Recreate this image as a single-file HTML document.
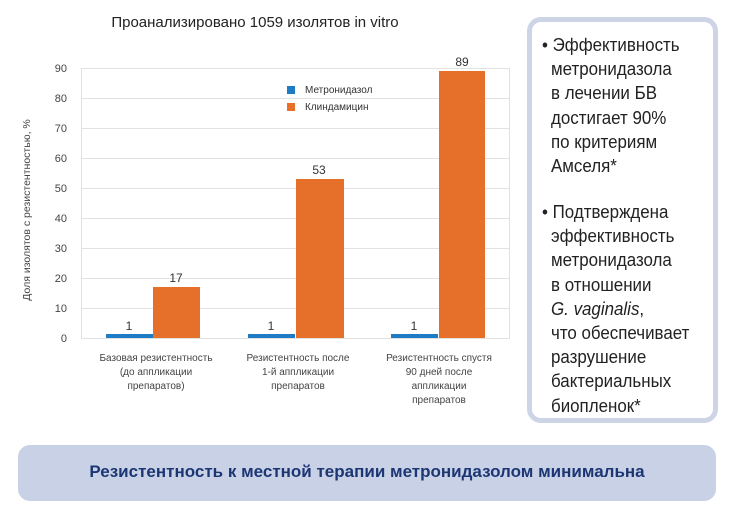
<!DOCTYPE html>
<html><head><meta charset="utf-8"><style>
body{margin:0;width:730px;height:519px;background:#fff;font-family:"Liberation Sans",sans-serif;position:relative;overflow:hidden}
.box{position:absolute;left:527px;top:17px;width:181px;height:396px;border:5px solid #cdd4e6;border-radius:14px;background:#fff}
.box p{margin:0;position:absolute;left:10px;font-size:18px;line-height:24.2px;color:#222;transform:scaleX(0.94);transform-origin:0 0;white-space:nowrap}
.banner{position:absolute;left:18px;top:445px;width:698px;height:56px;background:#c9d1e6;border-radius:12px;text-align:center;line-height:54px;font-weight:bold;font-size:17px;color:#1c3674}
</style></head><body>
<svg width="520" height="430" style="position:absolute;left:0;top:0" font-family="Liberation Sans, sans-serif">
<text x="255" y="27" font-size="15" text-anchor="middle" fill="#222">Проанализировано 1059 изолятов in vitro</text>
<g stroke="#e2e2e2" stroke-width="1">
<line x1="81" x2="510" y1="68.5" y2="68.5"/><line x1="81" x2="510" y1="98.5" y2="98.5"/><line x1="81" x2="510" y1="128.5" y2="128.5"/><line x1="81" x2="510" y1="158.5" y2="158.5"/><line x1="81" x2="510" y1="188.5" y2="188.5"/><line x1="81" x2="510" y1="218.5" y2="218.5"/><line x1="81" x2="510" y1="248.5" y2="248.5"/><line x1="81" x2="510" y1="278.5" y2="278.5"/><line x1="81" x2="510" y1="308.5" y2="308.5"/><line x1="81" x2="510" y1="338.5" y2="338.5"/>
<line x1="81.5" x2="81.5" y1="68" y2="338"/><line x1="509.5" x2="509.5" y1="68" y2="338"/>
</g>
<g font-size="11" fill="#444" text-anchor="end">
<text x="67" y="72">90</text><text x="67" y="102">80</text><text x="67" y="132">70</text><text x="67" y="162">60</text><text x="67" y="192">50</text><text x="67" y="222">40</text><text x="67" y="252">30</text><text x="67" y="282">20</text><text x="67" y="312">10</text><text x="67" y="342">0</text>
</g>
<text transform="translate(30,210) rotate(-90)" font-size="10.5" fill="#444" text-anchor="middle">Доля изолятов с резистентностью, %</text>
<g fill="#1d7cc4"><rect x="106" y="334" width="47" height="4"/><rect x="248" y="334" width="47" height="4"/><rect x="391" y="334" width="47" height="4"/></g>
<g fill="#e6702a"><rect x="153" y="287" width="47" height="51"/><rect x="296" y="179" width="48" height="159"/><rect x="439" y="71" width="46" height="267"/></g>
<g font-size="12" fill="#333" text-anchor="middle">
<text x="129" y="330">1</text><text x="271" y="330">1</text><text x="414" y="330">1</text>
<text x="176" y="282">17</text><text x="319" y="174">53</text><text x="462" y="66">89</text>
</g>
<rect x="287" y="86" width="8" height="8" fill="#1d7cc4"/><rect x="287" y="103" width="8" height="8" fill="#e6702a"/>
<text x="305" y="93" font-size="10" fill="#333">Метронидазол</text>
<text x="305" y="110" font-size="10" fill="#333">Клиндамицин</text>
<g font-size="10" fill="#444" text-anchor="middle">
<text x="156" y="361">Базовая резистентность</text><text x="156" y="375">(до аппликации</text><text x="156" y="389">препаратов)</text>
<text x="298" y="361">Резистентность после</text><text x="298" y="375">1-й аппликации</text><text x="298" y="389">препаратов</text>
<text x="439" y="361">Резистентность спустя</text><text x="439" y="375">90 дней после</text><text x="439" y="389">аппликации</text><text x="439" y="403">препаратов</text>
</g>
</svg>
<div class="box">
<p style="top:11px">•&nbsp;Эффективность</p>
<p style="top:35.2px;left:19px">метронидазола<br>в лечении БВ<br>достигает 90%<br>по критериям<br>Амселя*</p>
<p style="top:178px">•&nbsp;Подтверждена</p>
<p style="top:202.2px;left:19px">эффективность<br>метронидазола<br>в отношении<br><i>G. vaginalis</i>,<br>что обеспечивает<br>разрушение<br>бактериальных<br>биопленок*</p>
</div>
<div class="banner">Резистентность к местной терапии метронидазолом минимальна</div>
</body></html>
